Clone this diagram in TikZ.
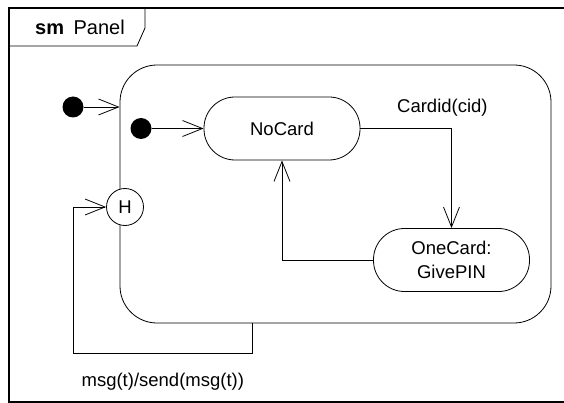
\documentclass[tikz,border=0pt]{standalone}
\usepackage{fontspec}
\setmainfont{Liberation Sans}
\usetikzlibrary{positioning, arrows.meta}
\tikzset{
    ->, % makes the edges directed
    >={Straight Barb[length=20pt, width=16pt]}, % open V heads
    every node/.style={font=\fontsize{18.5}{24}\selectfont},
    state/.style={draw, line width=0.8pt, rounded corners=31pt, minimum width=156pt, minimum height=63pt, align=center, inner sep=0pt}, % simple states
    initial/.style={circle, fill=black, minimum size=21pt, inner sep=0pt}, % initial pseudostates
    history/.style={draw, circle, fill=white, line width=0.8pt, minimum size=37pt, inner sep=0pt},
}

\begin{document}
\begin{tikzpicture}[x=1pt, y=-1pt, line width=0.8pt]
                \useasboundingbox (0,0) rectangle (564,403);
                % frame and tab
                \draw[-, line width=1.4pt] (575,8) -- (9,8) -- (9,402) -- (575,402);
                \draw[-] (9,46) -- (137,46) -- (145,28) -- (145,8);
                \node[font=\fontsize{20}{24}\selectfont] (Tab) at (80,27) {\textbf{sm}\hspace{4pt} Panel};

                \node[draw, rounded corners=37pt, minimum width=431pt, minimum height=258pt] (Panel) at (335.5,194) {};
                \node[initial] (S1) at (73,107) {};
                \node[initial] (S2) at (141,128.5) {};
                \node[state] (NoCard) at (282,128.5) {NoCard};
                \node[state] (OneCard) at (451.5,260) {OneCard:\\GivePIN};
                \node[history] (H) at (125,207) {H};

                \draw (S1) -- (S1 -| Panel.west);
                \draw (S2) -- (NoCard);
                \draw (NoCard.east) -| node[pos=0.45, above=8pt] {Cardid(cid)} (OneCard.north);
                \draw (OneCard.west) -| (NoCard.south);
                \draw ([xshift=-83.5pt]Panel.south) -- ++(0,30) -| node[pos=0.25, below=16pt] {msg(t)/send(msg(t))} ([xshift=-32.5pt]H.west) -- (H.west);
            \end{tikzpicture}
\end{document}
